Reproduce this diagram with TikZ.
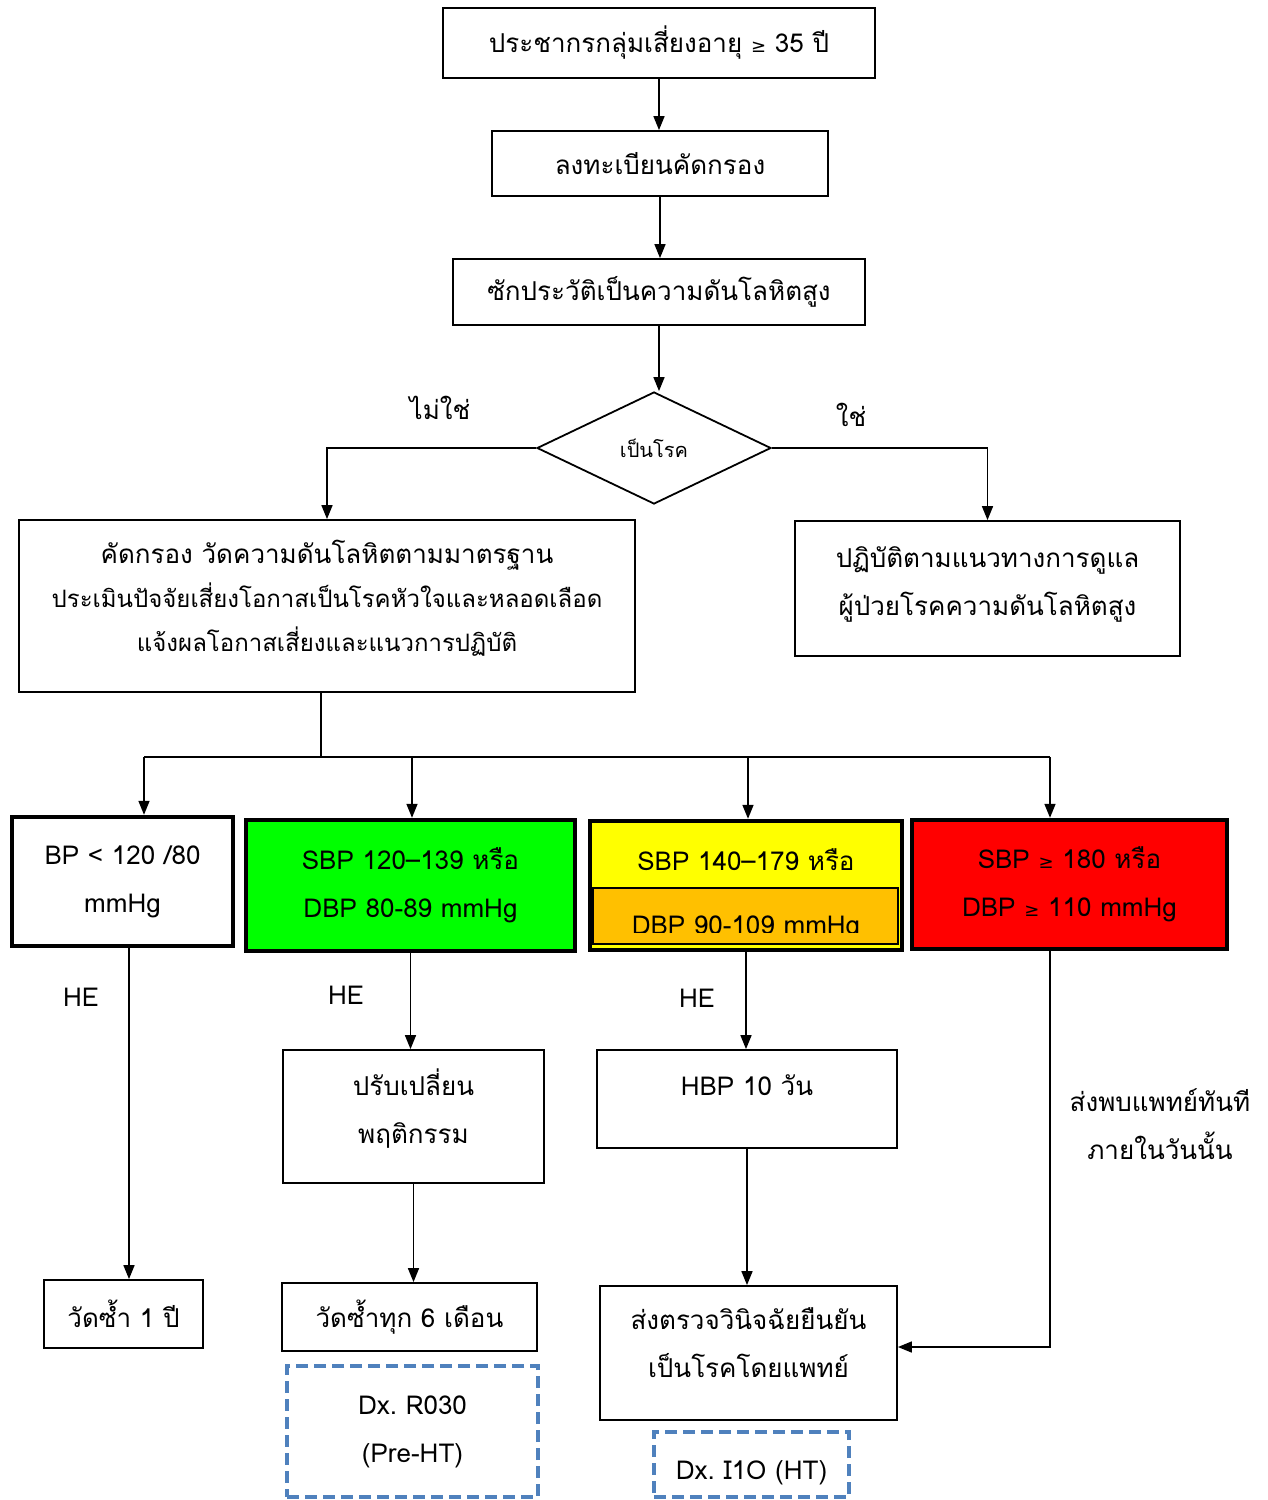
\documentclass[tikz,border=0pt]{standalone}
\usepackage{fontspec}
\newfontfamily\thai[Script=Thai]{Loma}
\newfontfamily\symfont{DejaVu Sans}
\newcommand\atleast{{\symfont\fontsize{9}{9}\selectfont ≥}}
\usetikzlibrary{shapes.geometric,arrows.meta}
\definecolor{hgreen}{RGB}{0,255,0}
\definecolor{hyellow}{RGB}{255,255,0}
\definecolor{horange}{RGB}{255,192,0}
\definecolor{hred}{RGB}{255,0,0}
\definecolor{dxblue}{RGB}{79,129,189}

\begin{document}
\begin{tikzpicture}[x=0.5pt,y=-0.5pt,
  box/.style={draw, line width=0.9pt, align=center, inner sep=0pt, font=\thai\fontsize{13}{24}\selectfont},
  bpbox/.style={box, line width=2.2pt},
  dxbox/.style={box, draw=dxblue, dash pattern=on 6pt off 3pt, line width=1.6pt},
  lbl/.style={font=\thai\fontsize{13}{24}\selectfont, align=center, inner sep=0pt},
  >={Triangle[length=7pt,width=5.5pt]}, line width=0.8pt]
\useasboundingbox (0,0) rectangle (1268,1500);

\node[box, minimum width=216pt, minimum height=35pt] (top) at (659,43) {ประชากรกลุ่มเสี่ยงอายุ \atleast\ 35 ปี};
\node[box, minimum width=168pt, minimum height=32.5pt] (reg) at (660,163.5) {ลงทะเบียนคัดกรอง};
\node[box, minimum width=206pt, minimum height=33pt] (hist) at (659,292) {ซักประวัติเป็นความดันโลหิตสูง};
\node[box, shape=diamond, minimum width=117pt, minimum height=56pt, font=\thai\fontsize{10}{12}\selectfont] (dec) at (654,448) {เป็นโรค};
\node[lbl] (no) at (440,408) {ไม่ใช่};
\node[lbl] (yes) at (851,415) {ใช่};

\node[box, minimum width=308pt, minimum height=86pt, text depth=10pt, font=\thai\fontsize{12}{22}\selectfont] (screen) at (327,606)
  {{\fontsize{13}{22}\selectfont คัดกรอง วัดความดันโลหิตตามมาตรฐาน}\\ประเมินปัจจัยเสี่ยงโอกาสเป็นโรคหัวใจและหลอดเลือด\\แจ้งผลโอกาสเสี่ยงและแนวการปฏิบัติ};
\node[box, minimum width=192.5pt, minimum height=67.5pt, text depth=7pt] (care) at (987.5,588.5) {ปฏิบัติตามแนวทางการดูแล\\ผู้ป่วยโรคความดันโลหิตสูง};

% blood pressure levels
\node[bpbox, minimum width=110.5pt, minimum height=64.5pt] (norm) at (122.5,881.5) {BP < 120 /80\\mmHg};
\node[bpbox, fill=hgreen, minimum width=164.5pt, minimum height=65.5pt] (pre) at (410.5,885.5) {SBP 120–139 หรือ\\DBP 80-89 mmHg};
\node[bpbox, fill=hyellow, minimum width=156pt, minimum height=64.5pt] (ht) at (746,885.5) {};
\node[draw, line width=0.8pt, fill=horange, inner sep=0pt, minimum width=152.5pt, minimum height=28pt] (htlow) at (745.5,916) {};
\node[lbl] (htsbp) at (746,860) {SBP 140–179 หรือ};
\begin{scope}
\clip (593,888) rectangle (898,932);
\node[lbl] (htdbp) at (746,928) {DBP 90-109 mmHg};
\end{scope}
\node[bpbox, fill=hred, minimum width=157.5pt, minimum height=64.5pt] (crisis) at (1069.5,884.5) {SBP \atleast\ 180 หรือ\\DBP \atleast\ 110 mmHg};

\node[lbl] (he1) at (81,997) {HE};
\node[lbl] (he2) at (346,995) {HE};
\node[lbl] (he3) at (697,998) {HE};

\node[box, minimum width=130.5pt, minimum height=66.5pt, text depth=10pt] (life) at (413.5,1116.5) {ปรับเปลี่ยน\\พฤติกรรม};
\node[box, minimum width=150pt, minimum height=49pt, text depth=14pt] (hbp) at (747,1099) {HBP 10 วัน};
\node[lbl] (refer) at (1160,1124) {ส่งพบแพทย์ทันที\\ภายในวันนั้น};

\node[box, minimum width=79.5pt, minimum height=34pt] (yr) at (123.5,1314) {วัดซ้ำ 1 ปี};
\node[box, minimum width=127.5pt, minimum height=34pt] (six) at (409.5,1317) {วัดซ้ำทุก 6 เดือน};
\node[box, minimum width=148.5pt, minimum height=67pt, text depth=10pt] (conf) at (748.5,1353) {ส่งตรวจวินิจฉัยยืนยัน\\เป็นโรคโดยแพทย์};
\node[dxbox, minimum width=125.5pt, minimum height=65.5pt] (dxpre) at (412.5,1431.5) {Dx.\ R030\\(Pre-HT)};
\node[dxbox, minimum width=97.5pt, minimum height=32.5pt, text height=18pt] (dxht) at (751.5,1464.5) {Dx.\ I1O (HT)};

\draw[->] (top.south) -- (top.south |- reg.north);
\draw[->] (reg.south) -- (reg.south |- hist.north);
\draw[->] (hist.south) -- (hist.south |- dec.north);
\draw[->] (dec.west) -| (screen.north);
\draw[->] (dec.east) -| (care.north);

\coordinate (split) at (321,757);
\coordinate (b1) at (144,757);
\coordinate (b2) at (412,757);
\coordinate (b3) at (748,757);
\coordinate (b4) at (1050,757);
\draw (split |- screen.south) -- (split);
\draw (b1) -- (b4);
\draw[->] (b1) -- (b1 |- norm.north);
\draw[->] (b2) -- (b2 |- pre.north);
\draw[->] (b3) -- (b3 |- ht.north);
\draw[->] (b4) -- (b4 |- crisis.north);

\coordinate (c1) at (129,1000);
\draw[->] (c1 |- norm.south) -- (c1 |- yr.north);
\draw[->] (pre.south) -- (pre.south |- life.north);
\draw[->] (life.south) -- (life.south |- six.north);
\draw[->] (ht.south) -- (ht.south |- hbp.north);
\draw[->] (hbp.south) -- (hbp.south |- conf.north);
\coordinate (turn) at (1050,1347);
\draw[->] (turn |- crisis.south) -- (turn) -- (turn -| conf.east);
\end{tikzpicture}
\end{document}
